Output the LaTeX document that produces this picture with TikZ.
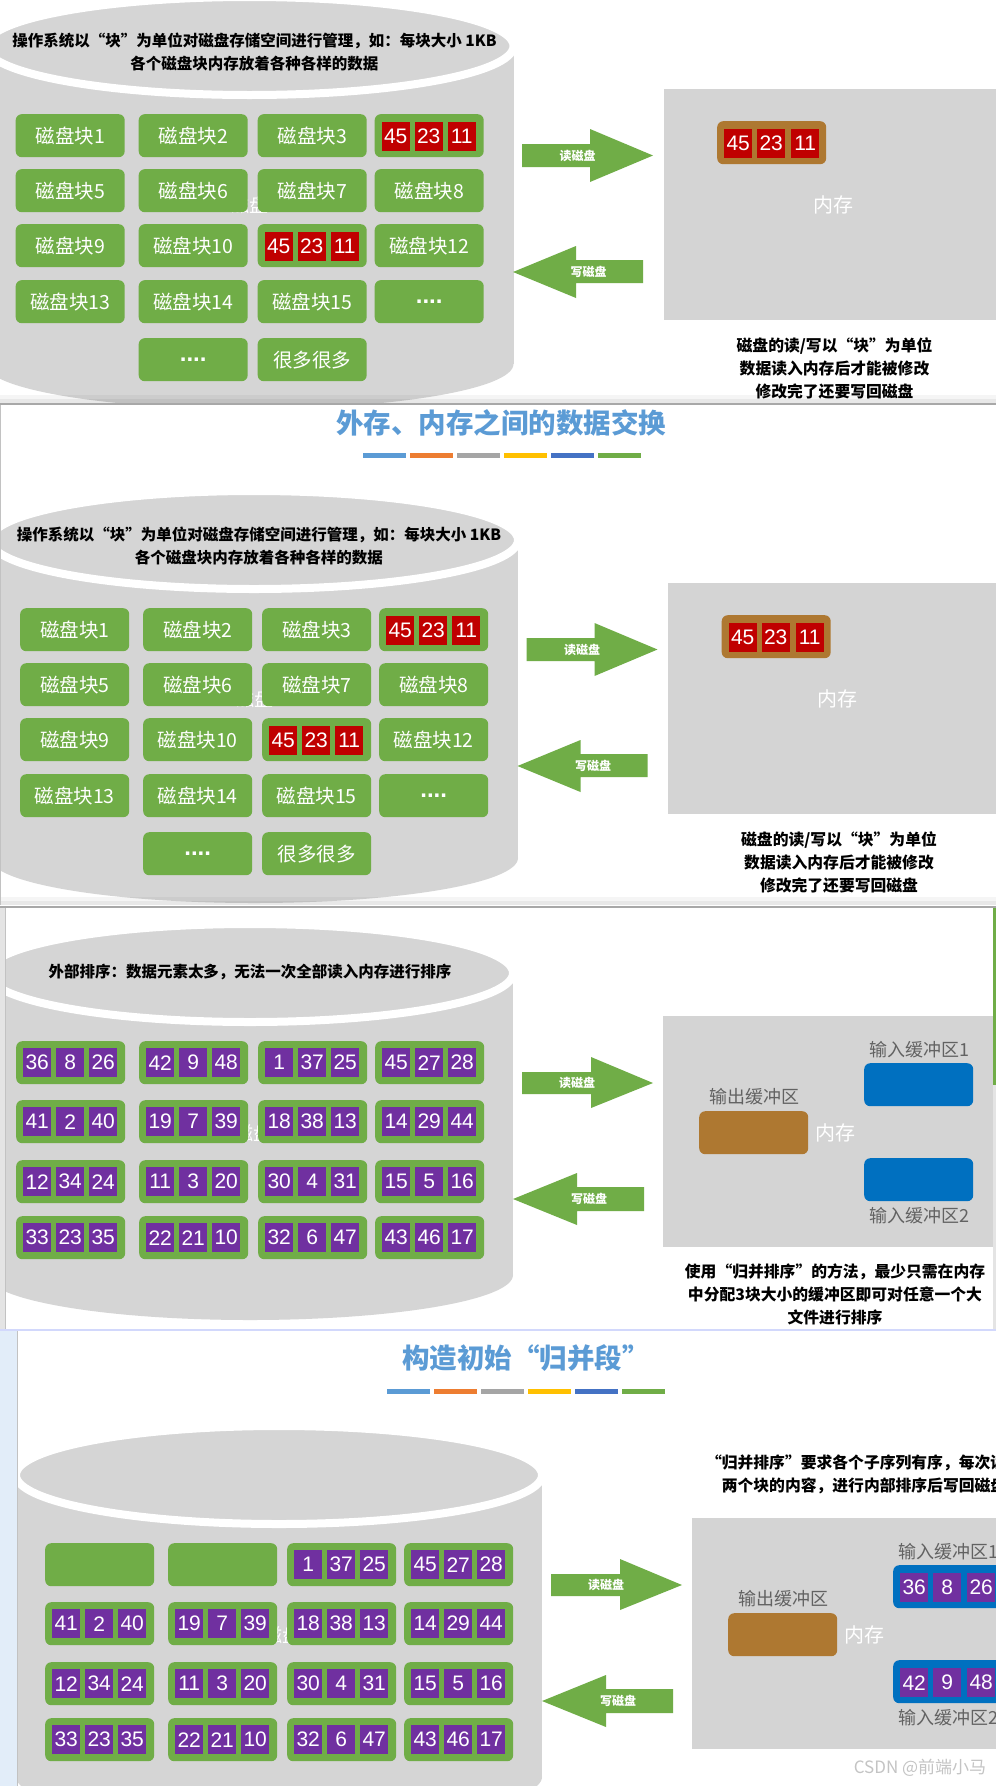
\documentclass[tikz,border=0pt]{standalone}
\usepackage{fontspec}
\setmainfont{Liberation Sans}
\newfontfamily\cjk{Noto Sans CJK SC}
\newfontfamily\latn{Liberation Sans}
\definecolor{cylgray}{HTML}{D5D5D5}
\definecolor{memgray}{HTML}{D4D4D4}
\definecolor{blkgreen}{HTML}{70AD47}
\definecolor{blkred}{HTML}{C00000}
\definecolor{blkpurple}{HTML}{7030A0}
\definecolor{bufbrown}{HTML}{AE7831}
\definecolor{bufblue}{HTML}{0070C0}
\definecolor{titleblue}{HTML}{5B9BD5}
\definecolor{lorange}{HTML}{ED7D31}
\definecolor{lgray}{HTML}{A5A5A5}
\definecolor{lyellow}{HTML}{FFC000}
\definecolor{ldblue}{HTML}{4472C4}
\definecolor{labgray}{HTML}{626262}
\definecolor{sepgray}{HTML}{A8A8A8}
\definecolor{stripblue}{HTML}{E2EDF9}
\definecolor{stripgray}{HTML}{E4E4E4}
\definecolor{wmgray}{HTML}{C4C4C4}
\newcommand{\fs}[1]{\fontsize{#1}{#1}\selectfont}
\newcommand{\blkdots}{\raisebox{-4pt}{\latn\bfseries\fs{24}....}}
\tikzset{
  blk/.style={fill=blkgreen, rounded corners=6pt, minimum width=109pt, minimum height=43pt, inner sep=0pt, anchor=north west, text=white, font=\cjk\fs{19.5}},
  sqbox/.style={minimum width=28pt, minimum height=29pt, inner sep=0pt, anchor=north west, text=white, font=\fs{21}},
  redsq/.style={sqbox, fill=blkred},
  pursq/.style={sqbox, fill=blkpurple},
  arrowfill/.style={fill=blkgreen},
  arrowlab/.style={text=white, font=\cjk\bfseries\fs{12}},
  memlab/.style={text=white, font=\cjk\fs{20}},
  captext/.style={align=center, font=\cjk\bfseries\fontsize{15.8}{23}\selectfont, text=black},
  buflab/.style={text=labgray, font=\cjk\fs{18}},
  titletext/.style={text=titleblue, font=\cjk\bfseries\fs{27.5}},
  membox/.style={fill=memgray, inner sep=0pt, anchor=north west},
  bufbox/.style={rounded corners=6pt, minimum width=109pt, minimum height=43pt, inner sep=0pt, anchor=north west},
  fragtext/.style={text=white, font=\cjk\fs{19}},
}
% green block with label
\newcommand{\ablk}[4]{\node[blk] (#1) at (#2,#3) {#4};}
% green block with three red squares
\newcommand{\rblk}[6]{\node[blk] (#1) at (#2,#3) {};
  \node[redsq] (#1-a) at ({#2+7},{#3+8}) {#4};
  \node[redsq] (#1-b) at ({#2+40},{#3+8}) {#5};
  \node[redsq] (#1-c) at ({#2+73},{#3+8}) {#6};}
% green block with three purple squares
\newcommand{\pblk}[6]{\node[blk] (#1) at (#2,#3) {};
  \node[pursq] (#1-a) at ({#2+7},{#3+7}) {#4};
  \node[pursq] (#1-b) at ({#2+40},{#3+7}) {#5};
  \node[pursq] (#1-c) at ({#2+73},{#3+7}) {#6};}
% coloured bar under a title
\newcommand{\titlebar}[2]{%
  \foreach \c [count=\i from 0] in {titleblue,lorange,lgray,lyellow,ldblue,blkgreen}
    \draw[\c, line width=5pt] ({#1+47*\i},#2) -- ++(43,0);}
% slide A: disk blocks and memory (panel 2 coordinates)
\newcommand{\slideA}[1]{%
  \fill[cylgray] (-10,540) rectangle (518,858);
  \fill[cylgray] (254,858) ellipse [x radius=264, y radius=45];
  \filldraw[fill=cylgray, draw=white, line width=8pt] (254,540) ellipse [x radius=264, y radius=49];
  \node[captext, font=\cjk\bfseries\fontsize{15.5}{23}\selectfont] (#1-disktext) at (259,546.5) {操作系统以“块”为单位对磁盘存储空间进行管理，如：每块大小 1KB\\各个磁盘块内存放着各种各样的数据};
  \node[fragtext] (#1-frag) at (254,699) {磁盘};
  \ablk{#1-b1}{20}{608}{磁盘块1}
  \ablk{#1-b2}{143}{608}{磁盘块2}
  \ablk{#1-b3}{262}{608}{磁盘块3}
  \rblk{#1-b4}{379}{608}{45}{23}{11}
  \ablk{#1-b5}{20}{663}{磁盘块5}
  \ablk{#1-b6}{143}{663}{磁盘块6}
  \ablk{#1-b7}{262}{663}{磁盘块7}
  \ablk{#1-b8}{379}{663}{磁盘块8}
  \ablk{#1-b9}{20}{718}{磁盘块9}
  \ablk{#1-b10}{143}{718}{磁盘块10}
  \rblk{#1-b11}{262}{718}{45}{23}{11}
  \ablk{#1-b12}{379}{718}{磁盘块12}
  \ablk{#1-b13}{20}{774}{磁盘块13}
  \ablk{#1-b14}{143}{774}{磁盘块14}
  \ablk{#1-b15}{262}{774}{磁盘块15}
  \ablk{#1-b16}{379}{774}{\blkdots}
  \ablk{#1-b17}{143}{832}{\blkdots}
  \ablk{#1-b18}{262}{832}{很多很多}
  \fill[arrowfill] (526.5,638) -- (594.5,638) -- (594.5,623) -- (657.5,649.5) -- (594.5,676) -- (594.5,661) -- (526.5,661) -- cycle;
  \node[arrowlab] (#1-readlab) at (582,649.5) {读磁盘};
  \fill[arrowfill] (517.5,766) -- (580.5,740) -- (580.5,754) -- (647.5,754) -- (647.5,777) -- (580.5,777) -- (580.5,792) -- cycle;
  \node[arrowlab] (#1-writelab) at (593,766) {写磁盘};
  \node[membox, minimum width=340pt, minimum height=231pt] (#1-mem) at (668,583) {};
  \node[bufbox, fill=bufbrown] (#1-buf) at (721.5,615) {};
  \node[redsq] (#1-m1) at (728.5,623) {45};
  \node[redsq] (#1-m2) at (761.5,623) {23};
  \node[redsq] (#1-m3) at (795.5,623) {11};
  \node[memlab] (#1-memlab) at (837.5,699) {内存};
  \node[captext] (#1-cap) at (839,862) {磁盘的读/写以“块”为单位\\数据读入内存后才能被修改\\修改完了还要写回磁盘};
}
% slide B common part (panel 3 coordinates)
\newcommand{\slideB}[1]{%
  \fill[cylgray] (-13,973) rectangle (513,1275);
  \fill[cylgray] (250,1275) ellipse [x radius=263, y radius=45];
  \filldraw[fill=cylgray, draw=white, line width=8pt] (250,973) ellipse [x radius=263, y radius=49];
  \node[fragtext] (#1-frag) at (253,1133) {磁盘};
  \pblk{#1-b3}{258}{1041}{1}{37}{25}
  \pblk{#1-b4}{375}{1041}{45}{27}{28}
  \pblk{#1-b5}{16}{1100}{41}{2}{40}
  \pblk{#1-b6}{139}{1100}{19}{7}{39}
  \pblk{#1-b7}{258}{1100}{18}{38}{13}
  \pblk{#1-b8}{375}{1100}{14}{29}{44}
  \pblk{#1-b9}{16}{1160}{12}{34}{24}
  \pblk{#1-b10}{139}{1160}{11}{3}{20}
  \pblk{#1-b11}{258}{1160}{30}{4}{31}
  \pblk{#1-b12}{375}{1160}{15}{5}{16}
  \pblk{#1-b13}{16}{1216}{33}{23}{35}
  \pblk{#1-b14}{139}{1216}{22}{21}{10}
  \pblk{#1-b15}{258}{1216}{32}{6}{47}
  \pblk{#1-b16}{375}{1216}{43}{46}{17}
  \fill[arrowfill] (522,1072) -- (591,1072) -- (591,1057) -- (653,1083) -- (591,1108) -- (591,1094) -- (522,1094) -- cycle;
  \node[arrowlab] (#1-readlab) at (577,1083) {读磁盘};
  \fill[arrowfill] (513,1199) -- (577,1173) -- (577,1187) -- (644,1187) -- (644,1211) -- (577,1211) -- (577,1225) -- cycle;
  \node[arrowlab] (#1-writelab) at (589,1199) {写磁盘};
  \node[membox, minimum width=330pt, minimum height=231pt] (#1-mem) at (663,1016) {};
  \node[bufbox, fill=bufbrown] (#1-out) at (699,1111) {};
  \node[buflab] (#1-outlab) at (754,1097) {输出缓冲区};
  \node[memlab] (#1-memlab) at (835,1133) {内存};
  \node[bufbox, fill=bufblue] (#1-in1) at (864,1063) {};
  \node[buflab] (#1-in1lab) at (919,1050) {输入缓冲区1};
  \node[bufbox, fill=bufblue] (#1-in2) at (864,1158) {};
  \node[buflab] (#1-in2lab) at (919,1216) {输入缓冲区2};
}
\begin{document}
\begin{tikzpicture}[x=1pt,y=-1pt]
\useasboundingbox (0,0) rectangle (996,1786);
\fill[white] (0,0) rectangle (996,1786);
% ---------- panel 1 ----------
\begin{scope}
  \clip (0,0) rectangle (996,403);
  \begin{scope}[shift={(-4.5,-494)}]
    \slideA{p1}
  \end{scope}
  \fill[black, opacity=0.04] (0,395) rectangle (996,403);
  \fill[black, opacity=0.05] (0,399) rectangle (996,403);
\end{scope}
\draw[sepgray, line width=2pt] (0,404) -- (996,404);
% ---------- panel 2 ----------
\begin{scope}
  \clip (0,405) rectangle (996,905);
  \slideA{p2}
  \node[titletext] (p2-title) at (501,423) {外存、内存之间的数据交换};
  \titlebar{363}{455}
  \fill[black, opacity=0.04] (0,897) rectangle (996,905);
  \fill[black, opacity=0.05] (0,901) rectangle (996,905);
\end{scope}
\draw[sepgray!70, line width=1pt] (0.5,405) -- (0.5,905);
\draw[sepgray, line width=2pt] (0,907) -- (996,907);
% ---------- panel 3 ----------
\fill[stripgray] (0,908) rectangle (5,1330);
\fill[stripgray] (993,908) rectangle (996,1330);
\fill[blkgreen] (993,908) rectangle (996,1085);
\begin{scope}
  \clip (5,908) rectangle (993,1329);
  \slideB{p3}
  \node[captext, font=\cjk\bfseries\fontsize{15.5}{23}\selectfont] (p3-disktext) at (250,972) {外部排序：数据元素太多，无法一次全部读入内存进行排序};
  \pblk{p3-b1}{16}{1041}{36}{8}{26}
  \pblk{p3-b2}{139}{1041}{42}{9}{48}
\end{scope}
\node[captext] (p3-cap) at (835,1294.5) {使用“归并排序”的方法，最少只需在内存\\中分配3块大小的缓冲区即可对任意一个大\\文件进行排序};
\draw[sepgray!70, line width=1pt] (5.5,908) -- (5.5,1329);
\draw[stripblue!80!blue!60, line width=2pt] (0,1330) -- (996,1330);
% ---------- panel 4 ----------
\fill[stripblue] (0,1331) rectangle (17,1786);
\begin{scope}
  \clip (17,1331) rectangle (996,1786);
  \begin{scope}[shift={(29,502)}]
    \slideB{p4}
    \ablk{p4-b1}{16}{1041}{}
    \ablk{p4-b2}{139}{1041}{}
    \node[pursq] (p4-i1a) at (871,1071) {36};
    \node[pursq] (p4-i1b) at (904,1071) {8};
    \node[pursq] (p4-i1c) at (938,1071) {26};
    \node[pursq] (p4-i2a) at (871,1166) {42};
    \node[pursq] (p4-i2b) at (904,1166) {9};
    \node[pursq] (p4-i2c) at (938,1166) {48};
    \node[captext] (p4-cap) at (835,972.5) {“归并排序”要求各个子序列有序，每次读入\\两个块的内容，进行内部排序后写回磁盘};
  \end{scope}
  \node[titletext] (p4-title) at (526,1358) {构造初始“归并段”};
  \titlebar{387}{1391}
  \node[text=wmgray, font=\cjk\fs{17}] (wm) at (920,1768) {CSDN @前端小马};
\end{scope}
\draw[sepgray!70, line width=1pt] (17,1331) -- (17,1786);
\end{tikzpicture}
\end{document}
